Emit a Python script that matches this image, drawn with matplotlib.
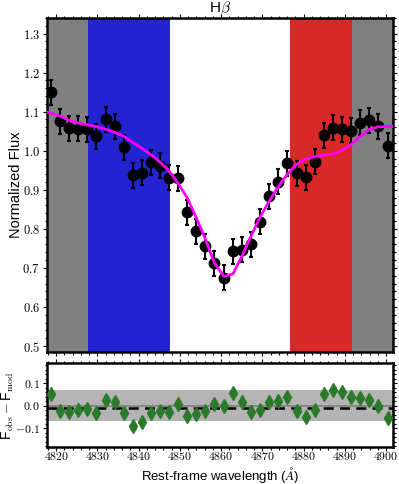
import matplotlib
matplotlib.use('Agg')
import matplotlib.pyplot as plt
from matplotlib.ticker import MultipleLocator, FuncFormatter

plt.rcParams['font.family'] = ['Liberation Sans', 'DejaVu Sans']
plt.rcParams['mathtext.fontset'] = 'cm'

# observed spectrum (rest-frame wavelength, normalized flux)
wave = [4818.7, 4820.9, 4823.1, 4825.3, 4827.5, 4829.7, 4832.0, 4834.2, 4836.4, 4838.6,
        4840.8, 4843.0, 4845.2, 4847.4, 4849.6, 4851.8, 4854.0, 4856.2, 4858.4, 4860.7,
        4862.9, 4865.1, 4867.3, 4869.5, 4871.7, 4873.9, 4876.1, 4878.3, 4880.5, 4882.7,
        4884.9, 4887.1, 4889.3, 4891.5, 4893.7, 4895.9, 4898.1, 4900.4]
flux = [1.150, 1.076, 1.057, 1.056, 1.055, 1.037, 1.080, 1.062, 1.009, 0.937,
        0.943, 0.971, 0.962, 0.931, 0.929, 0.842, 0.794, 0.755, 0.712, 0.675,
        0.742, 0.746, 0.761, 0.818, 0.883, 0.921, 0.968, 0.942, 0.932, 0.972,
        1.040, 1.059, 1.055, 1.051, 1.071, 1.078, 1.062, 1.013]
flux_err = 0.032

# model line
model_wave = [4817.8] + wave + [4901.7]
model = [1.099, 1.096, 1.089, 1.078, 1.071, 1.066, 1.062, 1.055, 1.047, 1.037, 1.021,
         1.006, 0.990, 0.971, 0.948, 0.916, 0.879, 0.828, 0.774, 0.712, 0.678,
         0.685, 0.731, 0.782, 0.831, 0.871, 0.908, 0.940, 0.965, 0.979, 0.985,
         0.989, 0.991, 1.000, 1.016, 1.036, 1.054, 1.061, 1.062, 1.062]

# residuals F_obs - F_mod
resid = [0.052, -0.022, -0.027, -0.019, -0.016, -0.031, 0.027, 0.016, -0.033, -0.090,
         -0.071, -0.031, -0.022, -0.028, 0.007, -0.044, -0.037, -0.022, 0.007, 0.000,
         0.055, 0.015, -0.030, -0.019, 0.015, 0.022, 0.037, -0.022, -0.049, -0.019,
         0.052, 0.071, 0.059, 0.037, 0.034, 0.025, 0.000, -0.056]
resid_mean = -0.012
resid_band = (-0.070, 0.068)

# wavelength windows
cont_blue = (4827.8, 4847.7)
cont_red = (4876.8, 4891.8)
xlim = (4817.8, 4901.7)

fig = plt.figure(figsize=(3.99, 4.84), dpi=100)
ax = fig.add_axes([0.118, 0.273, 0.867, 0.690])
ax2 = fig.add_axes([0.118, 0.076, 0.867, 0.174])

ax.axvspan(xlim[0], cont_blue[0], color='#808080', lw=0, zorder=0)
ax.axvspan(cont_blue[0], cont_blue[1], color='#2323d2', lw=0, zorder=0)
ax.axvspan(cont_red[0], cont_red[1], color='#d92828', lw=0, zorder=0)
ax.axvspan(cont_red[1], xlim[1], color='#808080', lw=0, zorder=0)

ax.errorbar(wave, flux, yerr=flux_err, fmt='o', color='black', ms=7.5,
            elinewidth=1.5, capsize=1.5, capthick=1.5, zorder=3)
ax.plot(model_wave, model, color='magenta', lw=2, zorder=4)

ax.set_xlim(xlim)
ax.set_ylim(0.485, 1.34)
ax.set_ylabel('Normalized Flux', fontsize=10.5)
ax.yaxis.set_label_coords(-0.07, 0.5)
ax.set_title(r'H$\beta$', fontsize=11, pad=2)
ax.tick_params(labelbottom=False)

ax2.axhspan(resid_band[0], resid_band[1], color='#b4b4b4', lw=0, zorder=0)
ax2.axhline(0, color='#808080', lw=1.2, zorder=1)
ax2.axhline(resid_mean, color='black', lw=1.8, ls='--', dashes=(4, 2.5), zorder=2)
ax2.plot(wave, resid, 'd', color='#2b7a2b', ms=7, zorder=3)
ax2.set_xlim(xlim)
ax2.set_ylim(-0.185, 0.19)
ax2.set_ylabel(r'F$_{\rm obs}-$F$_{\rm mod}$', fontsize=10)
ax2.yaxis.set_label_coords(-0.09, 0.5)
ax2.set_xlabel(r'Rest-frame wavelength ($\AA$)', fontsize=9.5)
ax2.xaxis.set_label_coords(0.5, -0.215)

for a in (ax, ax2):
    for s in a.spines.values():
        s.set_linewidth(1.8)
    a.xaxis.set_major_locator(MultipleLocator(10))
    a.xaxis.set_minor_locator(MultipleLocator(2))
    a.tick_params(which='both', direction='out', top=True, right=True,
                  labelsize=9, width=0.8, pad=2)
    a.tick_params(which='major', length=3)
    a.tick_params(which='minor', length=1.8)
ax2.tick_params(axis='x', which='both', pad=0, labelsize=8.5)
ax2.tick_params(axis='y', labelsize=8.5)

ax.yaxis.set_major_locator(MultipleLocator(0.1))
ax.yaxis.set_minor_locator(MultipleLocator(0.02))
ax2.yaxis.set_major_locator(MultipleLocator(0.1))
ax2.yaxis.set_minor_locator(MultipleLocator(0.02))
ax.yaxis.set_major_formatter(FuncFormatter(lambda v, p: f'${v:.1f}$'))
ax2.yaxis.set_major_formatter(FuncFormatter(lambda v, p: f'${v:.1f}$'))
ax2.xaxis.set_major_formatter(FuncFormatter(lambda v, p: f'${v:.0f}$'))

fig.savefig('out.png', dpi=100)
